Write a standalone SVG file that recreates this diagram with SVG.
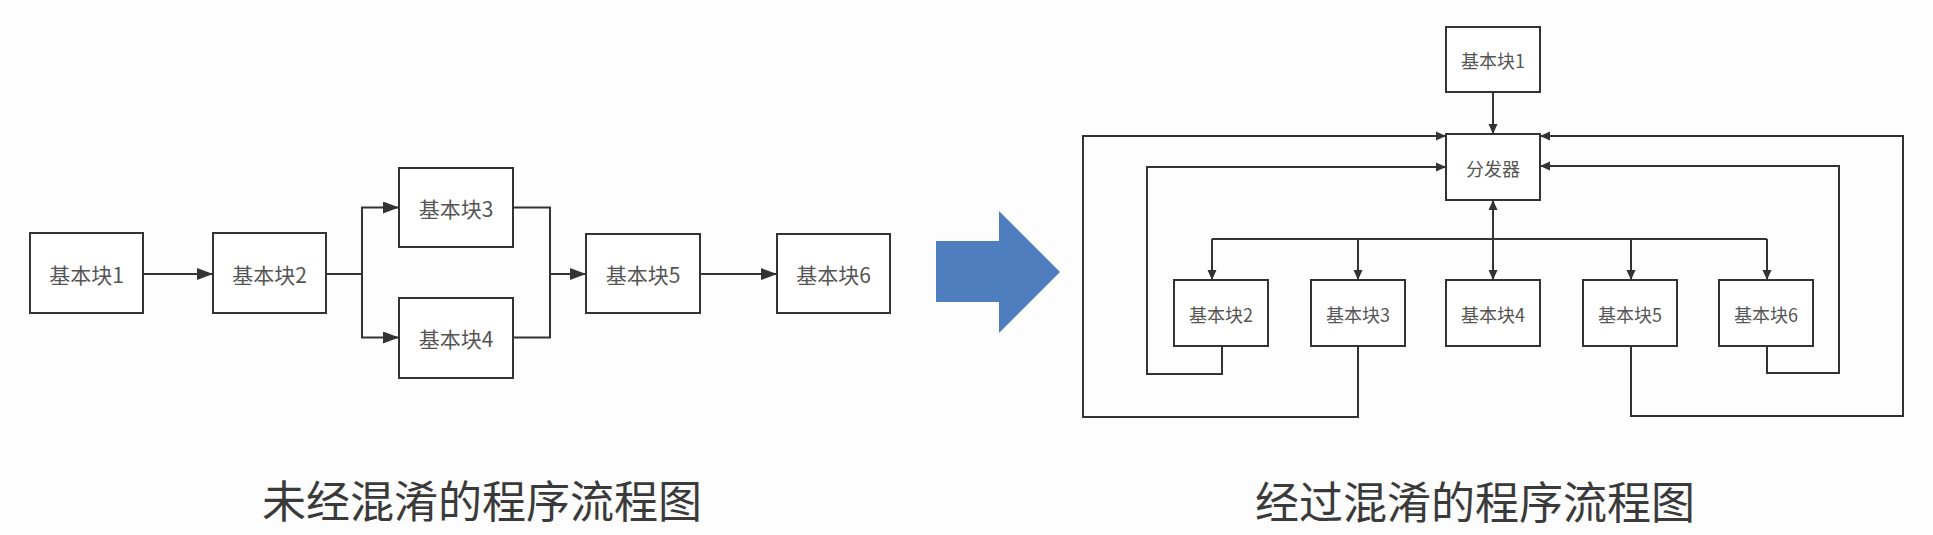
<svg xmlns="http://www.w3.org/2000/svg" width="1933" height="535" viewBox="0 0 1933 535">
<style>
.box{fill:#fff;stroke:#333;stroke-width:2}
.lbl{font-family:"Noto Sans CJK SC","Noto Sans",sans-serif;fill:#555;text-anchor:middle;dominant-baseline:central}
.l{font-size:21px}
.r{font-size:18px}
.ln{fill:none;stroke:#333;stroke-width:2}
.cap{font-family:"Noto Sans CJK SC","Noto Sans",sans-serif;font-size:44px;fill:#3a3a3a;text-anchor:middle;dominant-baseline:central}
</style>
<defs>
<marker id="aL" markerUnits="userSpaceOnUse" markerWidth="16" markerHeight="12" refX="16" refY="6" orient="auto"><path d="M0 0 L16 6 L0 12 z" fill="#333"/></marker>
<marker id="aR" markerUnits="userSpaceOnUse" markerWidth="10" markerHeight="10" refX="10" refY="5" orient="auto"><path d="M0 0.5 L10 5 L0 9.5 z" fill="#333"/></marker>
</defs>
<rect width="1933" height="535" fill="#fdfdfd"/>

<!-- left diagram -->
<g id="L1"><rect class="box" x="30" y="233" width="113" height="80"/><text class="lbl l" x="86.5" y="274">基本块1</text></g>
<g id="L2"><rect class="box" x="213" y="233" width="113" height="80"/><text class="lbl l" x="269.5" y="274">基本块2</text></g>
<g id="L3"><rect class="box" x="399" y="168" width="114" height="79"/><text class="lbl l" x="456" y="208">基本块3</text></g>
<g id="L4"><rect class="box" x="399" y="298" width="114" height="80"/><text class="lbl l" x="456" y="338">基本块4</text></g>
<g id="L5"><rect class="box" x="586" y="234" width="114" height="79"/><text class="lbl l" x="643" y="274">基本块5</text></g>
<g id="L6"><rect class="box" x="777" y="234" width="113" height="79"/><text class="lbl l" x="833.5" y="274">基本块6</text></g>

<g id="left-connectors">
<path class="ln" d="M143 274 H213" marker-end="url(#aL)"/>
<path class="ln" d="M326 274 H362"/>
<path class="ln" d="M362 274 V207.5 H399" marker-end="url(#aL)"/>
<path class="ln" d="M362 274 V337.5 H399" marker-end="url(#aL)"/>
<path class="ln" d="M513 207.5 H550 V337.5 H513"/>
<path class="ln" d="M550 274 H586" marker-end="url(#aL)"/>
<path class="ln" d="M700 274 H777" marker-end="url(#aL)"/>
</g>

<g id="big-arrow"><polygon points="936,241 999,241 999,211 1060,272 999,333 999,302 936,302" fill="#4E7EBD"/></g>

<!-- right diagram -->
<g id="R1"><rect class="box" x="1446" y="27" width="94" height="65"/><text class="lbl r" x="1493" y="60">基本块1</text></g>
<g id="RD"><rect class="box" x="1446" y="134" width="94" height="66"/><text class="lbl r" x="1493" y="168">分发器</text></g>
<g id="R2"><rect class="box" x="1174" y="280" width="94" height="66"/><text class="lbl r" x="1221" y="314">基本块2</text></g>
<g id="R3"><rect class="box" x="1311" y="280" width="94" height="66"/><text class="lbl r" x="1358" y="314">基本块3</text></g>
<g id="R4"><rect class="box" x="1446" y="280" width="94" height="66"/><text class="lbl r" x="1493" y="314">基本块4</text></g>
<g id="R5"><rect class="box" x="1583" y="280" width="94" height="66"/><text class="lbl r" x="1630" y="314">基本块5</text></g>
<g id="R6"><rect class="box" x="1719" y="280" width="94" height="66"/><text class="lbl r" x="1766" y="314">基本块6</text></g>

<g id="right-connectors">
<path class="ln" d="M1493 92 V134" marker-end="url(#aR)"/>
<path class="ln" d="M1493 239 V200" marker-end="url(#aR)"/>
<path class="ln" d="M1493 239 V280" marker-end="url(#aR)"/>
<path class="ln" d="M1212 239 H1767"/>
<path class="ln" d="M1212 239 V280" marker-end="url(#aR)"/>
<path class="ln" d="M1358 239 V280" marker-end="url(#aR)"/>
<path class="ln" d="M1631 239 V280" marker-end="url(#aR)"/>
<path class="ln" d="M1767 239 V280" marker-end="url(#aR)"/>
<path class="ln" d="M1358 346 V417 H1083 V136 H1446" marker-end="url(#aR)"/>
<path class="ln" d="M1222 346 V374 H1147 V167 H1446" marker-end="url(#aR)"/>
<path class="ln" d="M1631 346 V416 H1903 V136 H1540" marker-end="url(#aR)"/>
<path class="ln" d="M1767 346 V373 H1839 V166 H1540" marker-end="url(#aR)"/>
</g>

<g id="captions">
<text class="cap" x="482" y="499">未经混淆的程序流程图</text>
<text class="cap" x="1475" y="500">经过混淆的程序流程图</text>
</g>
</svg>
